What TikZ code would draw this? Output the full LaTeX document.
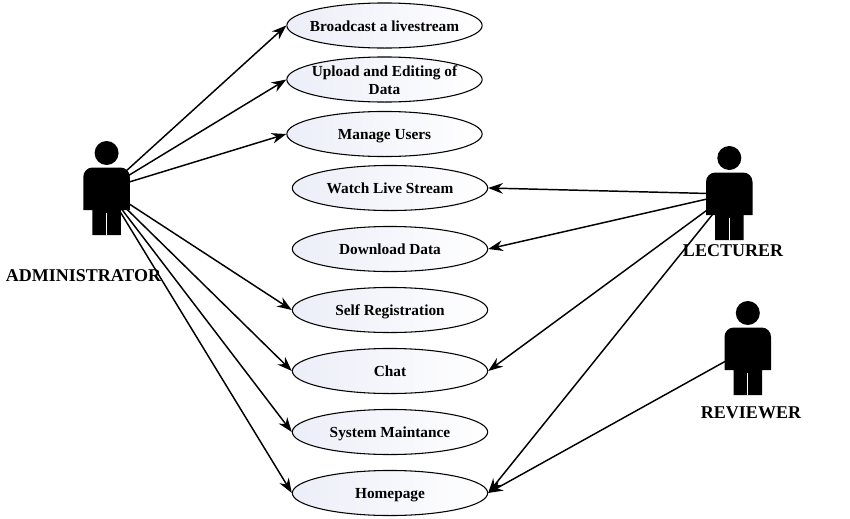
\documentclass[tikz,border=0pt]{standalone}
\usepackage{fontspec}
\setmainfont{Liberation Serif}
\usetikzlibrary{arrows.meta,shapes.geometric}

\definecolor{ucshade}{RGB}{236,238,248}
\newcommand{\uctext}[1]{\raisebox{-4.5pt}[0pt][0pt]{\makebox[0pt]{\begin{tabular}{@{}c@{}}#1\end{tabular}}}}

\tikzset{
	usecase/.style={ellipse,draw=black,line width=0.8pt,left color=ucshade,right color=white,inner sep=0pt,
		minimum width=146.5pt,minimum height=33.8pt,font=\fontsize{11.5}{13.5}\selectfont\bfseries},
	actor/.style={rectangle,inner sep=0pt,minimum width=30pt,minimum height=27pt},
	actorname/.style={inner sep=0pt,font=\fontsize{13.5}{16}\selectfont\bfseries},
	link/.style={line width=1.1pt,-{Stealth[length=11pt,width=8pt]}},
	person/.pic={
		\fill[black] (0.3,-36) circle (12);
		\fill[black] (-23,21) {[rounded corners=7pt] -- (-23,-21.5) -- (23.5,-21.5)} -- (23.5,21) -- (14.5,21) -- (14.5,46) -- (-14,46) -- (-14,21) -- cycle;
		\draw[white,line width=0.6pt] (0.3,24) -- (0.3,46);
	}
}

\begin{document}
\begin{tikzpicture}[x=0.75pt,y=-0.75pt]
	\useasboundingbox (0,0) rectangle (850,518);

	\node[usecase] (broadcast) at (384.5,25.5) {\uctext{Broadcast a livestream}};
	\node[usecase] (upload) at (384.5,79.5) {\uctext{Upload and Editing of\\Data}};
	\node[usecase] (manage) at (384.5,134) {\uctext{Manage Users}};
	\node[usecase] (watch) at (390,188) {\uctext{Watch Live Stream}};
	\node[usecase] (download) at (390,249) {\uctext{Download Data}};
	\node[usecase] (selfreg) at (390,310) {\uctext{Self Registration}};
	\node[usecase] (chat) at (390,371) {\uctext{Chat}};
	\node[usecase] (maintain) at (390,432) {\uctext{System Maintance}};
	\node[usecase] (homepage) at (390,493) {\uctext{Homepage}};

	\node[actor] (admin) at (106.3,189) {};
	\node[actor] (lecturer) at (729,194) {};
	\node[actor] (reviewer) at (747.5,349) {};

	\draw[link] (admin) -- (broadcast.west);
	\draw[link] (admin) -- (upload.west);
	\draw[link] (admin) -- (manage.west);
	\draw[link] (admin) -- (selfreg.west);
	\draw[link] (admin) -- (chat.west);
	\draw[link] (admin) -- (maintain.west);
	\draw[link] (admin) -- (homepage.west);

	\draw[link] (lecturer) -- (watch.east);
	\draw[link] (lecturer) -- (download.east);
	\draw[link] (lecturer) -- (chat.east);
	\draw[link] (lecturer) -- (homepage.east);
	\draw[link] (reviewer) -- (homepage.east);

	\pic at (admin) {person};
	\pic at (lecturer) {person};
	\pic at (reviewer) {person};

	\node[actorname] (adminname) at (83.5,276) {ADMINISTRATOR};
	\node[actorname] (lecturername) at (733,251) {LECTURER};
	\node[actorname] (reviewername) at (751,413) {REVIEWER};
\end{tikzpicture}
\end{document}
